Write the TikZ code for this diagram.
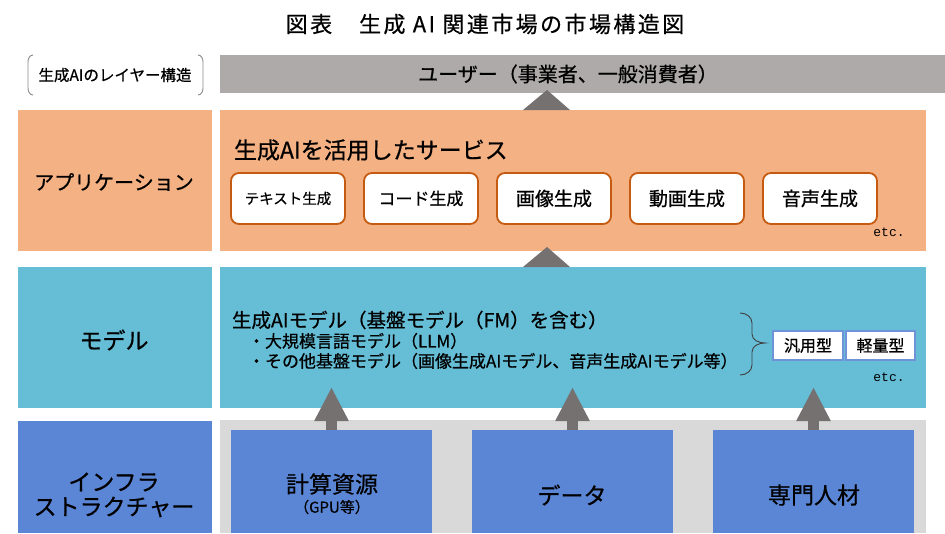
\documentclass[tikz,border=0pt]{standalone}
\usepackage{fontspec}
\setmainfont{Noto Sans CJK JP}[FakeBold=0.6]
\newfontfamily\monof{Liberation Mono}
\usetikzlibrary{arrows.meta}
\definecolor{usergrey}{HTML}{AEAAAA}
\definecolor{trigrey}{HTML}{767171}
\definecolor{appor}{HTML}{F4B183}
\definecolor{appline}{HTML}{C55A11}
\definecolor{modcy}{HTML}{66BDD6}
\definecolor{infbg}{HTML}{D9D9D9}
\definecolor{infbl}{HTML}{5A86D5}
\definecolor{typeline}{HTML}{6F93D9}
\definecolor{bracegrey}{HTML}{404040}
\newcommand{\fsz}[1]{\fontsize{#1}{#1}\selectfont}
\begin{document}
\begin{tikzpicture}[x=1pt,y=-1pt,
  band/.style={draw=none, inner sep=0pt, outer sep=0pt, anchor=north west},
  svc/.style={draw=appline, line width=1.8pt, fill=white, rounded corners=8pt,
    minimum width=114pt, minimum height=51pt, anchor=north west, inner sep=0pt, outer sep=0pt},
  typebox/.style={draw=typeline, line width=1.2pt, fill=white,
    minimum height=29pt, anchor=north west, inner sep=0pt, outer sep=0pt, font=\fsz{16}},
  infbox/.style={band, fill=infbl, minimum width=201pt, minimum height=103pt},
  txt/.style={inner sep=0pt, outer sep=0pt, text=black},
  etctxt/.style={txt, font=\monof\fsz{13}},
  infarrow/.style={draw=trigrey, line width=11pt, -{Triangle[width=32pt,length=34pt]}},
  tri/.style={fill=trigrey},
  bracket/.style={draw=usergrey!80!black, line width=0.9pt},
]
\useasboundingbox (0,0) rectangle (945,533);
\fill[white] (0,0) rectangle (945,533);

% title
\node[txt, font=\fsz{22}\addfontfeatures{LetterSpace=11}] (title) at (485,24) {図表　生成 AI 関連市場の市場構造図};

% layer-structure label
\node[txt, font=\fsz{15.5}] (layerlbl) at (115,75) {生成AIのレイヤー構造};
\draw[bracket] (33,55) to[out=180,in=90] (28,62) -- (28,88) to[out=-90,in=180] (33,95);
\draw[bracket] (198,55) to[out=0,in=90] (203,62) -- (203,88) to[out=-90,in=0] (198,95);

% user bar
\node[band, fill=usergrey, minimum width=725pt, minimum height=38pt] (user) at (220,55) {};
\node[txt, font=\fsz{20}] (usertxt) at (568,74) {ユーザー（事業者、一般消費者）};

% application layer
\node[band, fill=appor, minimum width=194pt, minimum height=141pt] (appl) at (18,110) {};
\node[band, fill=appor, minimum width=706pt, minimum height=141pt] (appr) at (220,110) {};
\node[txt, font=\fsz{20}] (apptxt) at (114,182) {アプリケーション};
\node[txt, font=\fsz{23}, anchor=west] (apphead) at (234,150) {生成AIを活用したサービス};
\node[svc, font=\fsz{14.5}] (s1) at (231,173) {テキスト生成};
\node[svc, font=\fsz{17}] (s2) at (364,173) {コード生成};
\node[svc, font=\fsz{19}] (s3) at (497,173) {画像生成};
\node[svc, font=\fsz{19}] (s4) at (630,173) {動画生成};
\node[svc, font=\fsz{19}] (s5) at (763,173) {音声生成};
\node[etctxt] (etc1) at (889,232) {etc.};

% triangle user <- app
\coordinate (ta1) at (523,110);
\coordinate (ta2) at (547,90);
\coordinate (ta3) at (570,110);
\fill[tri] (ta1) -- (ta2) -- (ta3) -- cycle;

% model layer
\node[band, fill=modcy, minimum width=194pt, minimum height=141pt] (modl) at (18,267) {};
\node[band, fill=modcy, minimum width=706pt, minimum height=141pt] (modr) at (220,267) {};
\node[txt, font=\fsz{23}] (modtxt) at (114,340) {モデル};
\node[txt, font=\fsz{19.5}, anchor=west] (modhead) at (232,320) {生成AIモデル（基盤モデル（FM）を含む）};
\node[txt, font=\fsz{17}, anchor=west] (modb1) at (248,341) {・大規模言語モデル（LLM）};
\node[txt, font=\fsz{17}, anchor=west] (modb2) at (248,361) {・その他基盤モデル（画像生成AIモデル、音声生成AIモデル等）};
\draw[draw=bracegrey, line width=0.9pt] (740,313) to[out=0,in=90] (752,323) -- (752,334)
  to[out=-90,in=180] (765,343) to[out=180,in=90] (752,352) -- (752,365)
  to[out=-90,in=0] (740,375);
\node[typebox, minimum width=70pt] (gen) at (773,331) {汎用型};
\node[typebox, minimum width=69pt] (light) at (846,331) {軽量型};
\node[etctxt] (etc2) at (889,377) {etc.};

% triangle app <- model
\coordinate (tb1) at (523,267);
\coordinate (tb2) at (547,247);
\coordinate (tb3) at (570,267);
\fill[tri] (tb1) -- (tb2) -- (tb3) -- cycle;

% infrastructure layer
\node[band, fill=infbl, minimum width=194pt, minimum height=112pt] (infl) at (18,421) {};
\node[band, fill=infbg, minimum width=706pt, minimum height=113pt] (infr) at (220,420) {};
\node[txt, font=\fsz{23}] (inftxt1) at (114,482) {インフラ};
\node[txt, font=\fsz{23}] (inftxt2) at (114,507) {ストラクチャー};
\node[infbox] (ib1) at (231,430) {};
\node[infbox] (ib2) at (472,430) {};
\node[infbox] (ib3) at (713,430) {};
\node[txt, font=\fsz{23}] (ib1t) at (332,484) {計算資源};
\node[txt, font=\fsz{15}] (ib1s) at (332,507) {（GPU等）};
\node[txt, font=\fsz{23}] (ib2t) at (572,495) {データ};
\node[txt, font=\fsz{23}] (ib3t) at (814,495) {専門人材};

% arrows infra -> model
\coordinate (t1) at (331.5,387);
\coordinate (t2) at (572.5,387);
\coordinate (t3) at (813.5,387);
\draw[infarrow] (ib1.north) -- (t1);
\draw[infarrow] (ib2.north) -- (t2);
\draw[infarrow] (ib3.north) -- (t3);
\end{tikzpicture}
\end{document}
